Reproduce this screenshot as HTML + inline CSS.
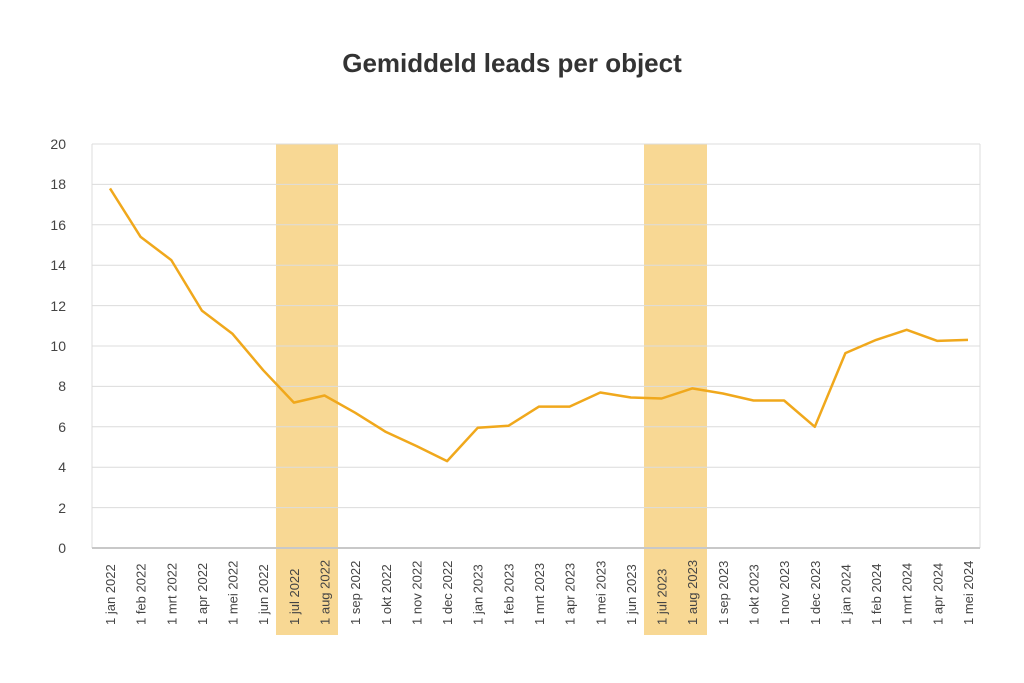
<!DOCTYPE html>
<html><head><meta charset="utf-8"><style>
body{margin:0;background:#fff;}
svg{display:block;font-family:"Liberation Sans",sans-serif;}
</style></head><body>
<svg width="1024" height="683" viewBox="0 0 1024 683" xmlns="http://www.w3.org/2000/svg">
<rect width="1024" height="683" fill="#fff"/>
<text x="512" y="72" text-anchor="middle" font-size="26" font-weight="bold" fill="#333">Gemiddeld leads per object</text>
<rect x="276" y="144" width="62" height="491" fill="#f8d894"/>
<rect x="644" y="144" width="63" height="491" fill="#f8d894"/>
<g stroke="#dcdcdc" stroke-width="1">
<line x1="92" y1="144" x2="980" y2="144"/>
<line x1="92" y1="184.4" x2="980" y2="184.4"/>
<line x1="92" y1="224.8" x2="980" y2="224.8"/>
<line x1="92" y1="265.2" x2="980" y2="265.2"/>
<line x1="92" y1="305.6" x2="980" y2="305.6"/>
<line x1="92" y1="346" x2="980" y2="346"/>
<line x1="92" y1="386.4" x2="980" y2="386.4"/>
<line x1="92" y1="426.8" x2="980" y2="426.8"/>
<line x1="92" y1="467.2" x2="980" y2="467.2"/>
<line x1="92" y1="507.6" x2="980" y2="507.6"/>
<line x1="92" y1="144" x2="92" y2="548"/>
<line x1="980" y1="144" x2="980" y2="548"/>
</g>
<line x1="92" y1="548" x2="980" y2="548" stroke="#c8c8c8" stroke-width="2"/>
<g font-size="14" fill="#444" text-anchor="end">
<text x="66" y="149">20</text><text x="66" y="189">18</text><text x="66" y="230">16</text><text x="66" y="270">14</text><text x="66" y="311">12</text><text x="66" y="351">10</text><text x="66" y="391">8</text><text x="66" y="432">6</text><text x="66" y="472">4</text><text x="66" y="513">2</text><text x="66" y="553">0</text>
</g>
<polyline fill="none" stroke="#f0a81c" stroke-width="2.5" stroke-linejoin="round" points="110,188.4 140.6,236.9 171.3,260.1 201.9,310.6 232.6,333.9 263.2,370.2 293.9,402.6 324.5,395.5 355.1,412.7 385.8,431.9 416.4,446 447.1,461.1 477.7,427.8 508.4,425.8 539,406.6 569.6,406.6 600.3,392.5 630.9,397.5 661.6,398.5 692.2,388.4 722.9,393.5 753.5,400.5 784.1,400.5 814.8,426.8 845.4,353.1 876.1,339.9 906.7,329.8 937.4,340.9 968,339.9"/>
<g font-size="13" fill="#444" text-anchor="start">
<text transform="translate(115,625) rotate(-90)">1 jan 2022</text>
<text transform="translate(145.6,625) rotate(-90)">1 feb 2022</text>
<text transform="translate(176.3,625) rotate(-90)">1 mrt 2022</text>
<text transform="translate(206.9,625) rotate(-90)">1 apr 2022</text>
<text transform="translate(237.6,625) rotate(-90)">1 mei 2022</text>
<text transform="translate(268.2,625) rotate(-90)">1 jun 2022</text>
<text transform="translate(298.9,625) rotate(-90)">1 jul 2022</text>
<text transform="translate(329.5,625) rotate(-90)">1 aug 2022</text>
<text transform="translate(360.1,625) rotate(-90)">1 sep 2022</text>
<text transform="translate(390.8,625) rotate(-90)">1 okt 2022</text>
<text transform="translate(421.4,625) rotate(-90)">1 nov 2022</text>
<text transform="translate(452.1,625) rotate(-90)">1 dec 2022</text>
<text transform="translate(482.7,625) rotate(-90)">1 jan 2023</text>
<text transform="translate(513.4,625) rotate(-90)">1 feb 2023</text>
<text transform="translate(544,625) rotate(-90)">1 mrt 2023</text>
<text transform="translate(574.6,625) rotate(-90)">1 apr 2023</text>
<text transform="translate(605.3,625) rotate(-90)">1 mei 2023</text>
<text transform="translate(635.9,625) rotate(-90)">1 jun 2023</text>
<text transform="translate(666.6,625) rotate(-90)">1 jul 2023</text>
<text transform="translate(697.2,625) rotate(-90)">1 aug 2023</text>
<text transform="translate(727.9,625) rotate(-90)">1 sep 2023</text>
<text transform="translate(758.5,625) rotate(-90)">1 okt 2023</text>
<text transform="translate(789.1,625) rotate(-90)">1 nov 2023</text>
<text transform="translate(819.8,625) rotate(-90)">1 dec 2023</text>
<text transform="translate(850.4,625) rotate(-90)">1 jan 2024</text>
<text transform="translate(881.1,625) rotate(-90)">1 feb 2024</text>
<text transform="translate(911.7,625) rotate(-90)">1 mrt 2024</text>
<text transform="translate(942.4,625) rotate(-90)">1 apr 2024</text>
<text transform="translate(973,625) rotate(-90)">1 mei 2024</text>
</g>
</svg>
</body></html>
